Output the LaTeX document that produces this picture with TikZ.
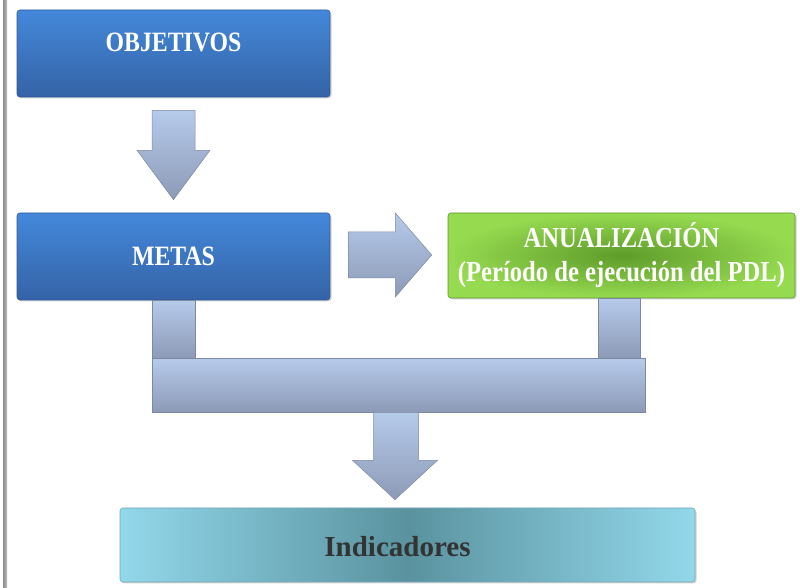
\documentclass[tikz,border=0pt]{standalone}
\usepackage{fontspec}
\setmainfont{Liberation Serif}[FakeStretch=0.85]
\newfontfamily\plainserif{Liberation Serif}
\usetikzlibrary{calc,shadows}
\definecolor{blueT}{HTML}{4488DA}
\definecolor{blueB}{HTML}{3463A6}
\definecolor{blueD}{HTML}{2F5A96}
\definecolor{greenO}{HTML}{96DA50}
\definecolor{greenI}{HTML}{5E9C2A}
\definecolor{greenD}{HTML}{5E9A2E}
\definecolor{cyanO}{HTML}{92D8EA}
\definecolor{cyanI}{HTML}{5A929F}
\definecolor{cyanD}{HTML}{6FA8B6}
\definecolor{arrT}{HTML}{B6CAEA}
\definecolor{arrB}{HTML}{8C9AB6}
\definecolor{arrD}{HTML}{7D89A2}
\tikzset{
  boxbase/.style={rectangle, rounded corners=3pt, inner sep=0pt, line width=0.6pt,
    drop shadow={shadow xshift=1.5pt, shadow yshift=-1.5pt, opacity=0.35}},
  bluebox/.style={boxbase, draw=blueD, top color=blueT, bottom color=blueB,
    minimum width=313pt, minimum height=87pt},
  greenbox/.style={boxbase, draw=greenD, inner color=greenI, outer color=greenO,
    minimum width=347pt, minimum height=85pt},
  cyanbox/.style={boxbase, draw=cyanD, left color=cyanO, right color=cyanO, middle color=cyanI,
    minimum width=575pt, minimum height=74pt},
  lbl/.style={font=\fontsize{28}{34}\selectfont\bfseries, text=white, align=center},
  lbl2/.style={font=\fontsize{29}{34}\selectfont\bfseries, text=white, align=center},
  dlbl/.style={font=\plainserif\fontsize{29}{34}\selectfont\bfseries, text=black!80},
  arrowfill/.style={draw=arrD, line width=0.5pt, top color=arrT, bottom color=arrB}
}
\begin{document}
\begin{tikzpicture}[x=1pt,y=1pt]
\useasboundingbox (0,0) rectangle (800,588);
% left border
\fill[left color=black!45, right color=black!25] (3,0) rectangle (7,588);
% boxes
\node[bluebox] (obj) at (173.5,534.5) {};
\node[lbl] (objtxt) at (173.5,546) {OBJETIVOS};
\node[bluebox] (metas) at (173.5,331.5) {};
\node[lbl] (metastxt) at (metas.center) {METAS};
\node[greenbox] (anual) at (621.5,332.5) {};
\node[lbl2] (anualtxt) at (anual.center) {ANUALIZACIÓN\\(Período de ejecución del PDL)};
\node[cyanbox] (ind) at (407.5,43) {};
\node[dlbl] (indtxt) at ($(ind.center)+(-10,-2)$) {Indicadores};
% arrow objetivos -> metas
\path[arrowfill] ($(obj.south)+(-21.5,-13)$) -- ($(obj.south)+(21.5,-13)$)
  -- ($(obj.south)+(21.5,-53)$) -- ($(obj.south)+(36.5,-53)$)
  -- ($(metas.north)+(0,13)$)
  -- ($(obj.south)+(-36.5,-53)$) -- ($(obj.south)+(-21.5,-53)$) -- cycle;
% arrow metas -> anualizacion
\path[arrowfill] ($(metas.east)+(18,24.5)$) -- ($(metas.east)+(65,24.5)$)
  -- ($(metas.east)+(65,43.5)$) -- ($(anual.west)+(-16,0.5)$)
  -- ($(metas.east)+(65,-40.5)$) -- ($(metas.east)+(65,-21.5)$)
  -- ($(metas.east)+(18,-21.5)$) -- cycle;
% bracket connector
\coordinate (barTL) at ($(metas.south)+(-21.5,-58)$);
\coordinate (barBR) at ($(anual.south)+(23.5,-114)$);
\path[arrowfill] ($(metas.south)+(-21.5,0)$) rectangle ($(metas.south)+(21.5,-58)$);
\path[arrowfill] ($(anual.south)+(-23.5,0)$) rectangle ($(anual.south)+(18.5,-60)$);
\path[arrowfill] (barTL) rectangle (barBR);
\coordinate (bmid) at ($(barTL)!0.5!(barBR)$);
\coordinate (bbot) at (bmid |- barBR);
% arrow bar -> indicadores
\path[arrowfill] ($(bbot)+(-25,0)$) -- ($(bbot)+(20,0)$)
  -- ($(bbot)+(20,-48)$) -- ($(bbot)+(39,-48)$)
  -- ($(ind.north)+(-12.5,8)$)
  -- ($(bbot)+(-46,-48)$) -- ($(bbot)+(-25,-48)$) -- cycle;
\end{tikzpicture}
\end{document}
